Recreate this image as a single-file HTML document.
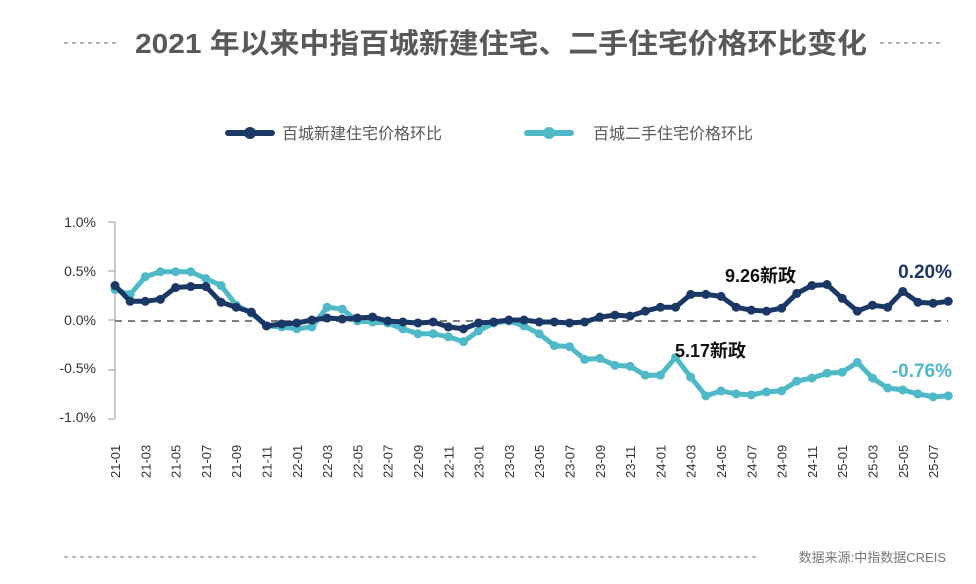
<!DOCTYPE html>
<html><head><meta charset="utf-8"><style>
body{margin:0;background:#fff;}
svg{display:block;font-family:"Liberation Sans","Noto Sans CJK SC",sans-serif;}
</style></head><body>
<svg id="s" width="976" height="584" viewBox="0 0 976 584" xmlns="http://www.w3.org/2000/svg">
<line x1="64" y1="43" x2="120" y2="43" stroke="#999" stroke-width="1.5" stroke-dasharray="4,4"/>
<line x1="880" y1="43" x2="940" y2="43" stroke="#999" stroke-width="1.5" stroke-dasharray="4,4"/>
<text x="501" y="53" text-anchor="middle" font-size="28" font-weight="bold" fill="#595959" textLength="732" lengthAdjust="spacingAndGlyphs">2021 年以来中指百城新建住宅、二手住宅价格环比变化</text>
<line x1="228" y1="133" x2="272" y2="133" stroke="#1b3765" stroke-width="6" stroke-linecap="round"/>
<circle cx="250" cy="133" r="6" fill="#1b3765"/>
<text x="282" y="139" font-size="16" fill="#595959">百城新建住宅价格环比</text>
<line x1="527" y1="133" x2="571" y2="133" stroke="#4fb9c8" stroke-width="6" stroke-linecap="round"/>
<circle cx="549" cy="133" r="6" fill="#4fb9c8"/>
<text x="593" y="139" font-size="16" fill="#595959">百城二手住宅价格环比</text>
<g font-size="14" fill="#333" text-anchor="end">
<text x="96" y="227">1.0%</text><text x="96" y="276">0.5%</text><text x="96" y="325">0.0%</text><text x="96" y="373">-0.5%</text><text x="96" y="422">-1.0%</text>
</g>
<g stroke="#aaa" stroke-width="1.2">
<line x1="115" y1="222" x2="115" y2="419"/>
<line x1="108" y1="222" x2="115" y2="222"/><line x1="108" y1="271" x2="115" y2="271"/><line x1="108" y1="320" x2="115" y2="320"/><line x1="108" y1="370" x2="115" y2="370"/><line x1="108" y1="419" x2="115" y2="419"/>
</g>
<line x1="115" y1="321" x2="948" y2="321" stroke="#555" stroke-width="1.5" stroke-dasharray="7,6"/>
<g id="ch"></g>
<text x="725" y="282" font-size="18" font-weight="bold" fill="#111">9.26新政</text>
<text x="675" y="357" font-size="18" font-weight="bold" fill="#111">5.17新政</text>
<text x="952" y="278" font-size="19" font-weight="bold" fill="#1b3765" text-anchor="end">0.20%</text>
<text x="952" y="377" font-size="19" font-weight="bold" fill="#4fb9c8" text-anchor="end">-0.76%</text>
<line x1="64" y1="557" x2="760" y2="557" stroke="#999" stroke-width="1.2" stroke-dasharray="4,4"/>
<text x="946" y="562" font-size="13" fill="#777" text-anchor="end">数据来源:中指数据CREIS</text>
</svg>
<script>
var dark=[0.36,0.20,0.20,0.22,0.34,0.35,0.35,0.19,0.14,0.09,-0.05,-0.03,
-0.02,0.01,0.03,0.02,0.03,0.04,0.0,-0.01,-0.02,-0.01,-0.06,-0.08,
-0.02,-0.01,0.01,0.01,-0.01,-0.01,-0.02,-0.01,0.04,0.06,0.05,0.10,
0.14,0.14,0.27,0.27,0.25,0.14,0.11,0.10,0.13,0.28,0.36,0.37,
0.23,0.10,0.16,0.14,0.30,0.19,0.18,0.20];
var light=[0.32,0.27,0.45,0.50,0.50,0.50,0.43,0.36,0.16,0.08,-0.05,-0.06,
-0.08,-0.06,0.14,0.12,0.0,-0.01,-0.02,-0.08,-0.13,-0.13,-0.16,-0.21,
-0.10,-0.02,0.0,-0.05,-0.13,-0.25,-0.26,-0.39,-0.38,-0.45,-0.46,-0.55,
-0.55,-0.37,-0.57,-0.76,-0.71,-0.74,-0.75,-0.72,-0.71,-0.61,-0.58,-0.53,
-0.52,-0.42,-0.58,-0.68,-0.70,-0.74,-0.77,-0.76];
var ns="http://www.w3.org/2000/svg",g=document.getElementById("ch");
function X(i){return 115+i*15.15;}function Y(v){return 321-v*98.5;}
function draw(d,c){var p=d.map(function(v,i){return X(i).toFixed(1)+","+Y(v).toFixed(1)}).join(" ");
var l=document.createElementNS(ns,"polyline");l.setAttribute("points",p);l.setAttribute("fill","none");l.setAttribute("stroke",c);l.setAttribute("stroke-width","5");l.setAttribute("stroke-linejoin","round");g.appendChild(l);
d.forEach(function(v,i){var ci=document.createElementNS(ns,"circle");ci.setAttribute("cx",X(i));ci.setAttribute("cy",Y(v));ci.setAttribute("r","4.5");ci.setAttribute("fill",c);g.appendChild(ci);});}
draw(light,"#4fb9c8");draw(dark,"#1b3765");
for(var i=0;i<56;i+=2){var yr=21+Math.floor(i/12),m=("0"+(i%12+1)).slice(-2);
var t=document.createElementNS(ns,"text");var x=X(i)+5;
t.setAttribute("transform","translate("+x+",478) rotate(-90)");t.setAttribute("font-size","13");t.setAttribute("fill","#333");
t.textContent=yr+"-"+m;document.getElementById("s").appendChild(t);}
</script>
</body></html>
